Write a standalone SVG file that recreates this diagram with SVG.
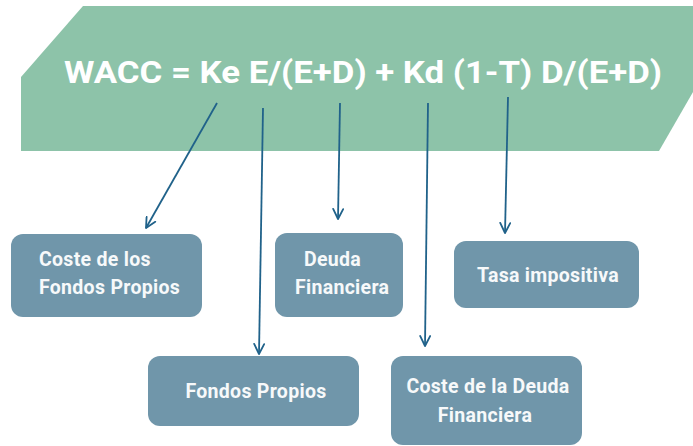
<svg xmlns="http://www.w3.org/2000/svg" width="693" height="446" viewBox="0 0 693 446">
<defs>
<style>
.box{fill:#7096aa;}
.lbl{font-family:Roboto,"Liberation Sans",sans-serif;font-weight:bold;font-size:19.5px;letter-spacing:0.3px;fill:#f7f9fa;}
.con{stroke:#20628a;stroke-width:1.8;fill:none;marker-end:url(#arr);}
</style>
<marker id="arr" viewBox="0 0 12 12" refX="11" refY="6" markerWidth="12" markerHeight="12" markerUnits="userSpaceOnUse" orient="auto">
<path d="M1,1 L11,6 L1,11" fill="none" stroke="#20628a" stroke-width="1.8" stroke-linecap="round" stroke-linejoin="round"/>
</marker>
</defs>
<rect width="693" height="446" fill="#ffffff"/>
<g id="formula">
<polygon points="83,6 693,6 693,92 659,151 21,151 21,77" fill="#8dc3a9"/>
<text x="64" y="83" font-family="Roboto,'Liberation Sans',sans-serif" font-weight="bold" font-size="32" fill="#ffffff" textLength="598" lengthAdjust="spacingAndGlyphs">WACC = Ke E/(E+D) + Kd (1-T) D/(E+D)</text>
</g>
<g id="connectors">
<line class="con" x1="217" y1="103" x2="146" y2="228"/>
<line class="con" x1="263" y1="108" x2="259" y2="354"/>
<line class="con" x1="340" y1="103" x2="338" y2="219"/>
<line class="con" x1="428" y1="103" x2="425" y2="346"/>
<line class="con" x1="508" y1="97" x2="505" y2="233"/>
</g>
<g id="coste-fondos-propios">
<rect class="box" x="11" y="234" width="191" height="83" rx="12"/>
<text class="lbl" x="39" y="266">Coste de los</text>
<text class="lbl" x="39" y="294">Fondos Propios</text>
</g>
<g id="deuda-financiera">
<rect class="box" x="275" y="233" width="128" height="84" rx="12"/>
<text class="lbl" x="304" y="266">Deuda</text>
<text class="lbl" x="295" y="294">Financiera</text>
</g>
<g id="tasa-impositiva">
<rect class="box" x="454" y="241" width="185" height="67" rx="12"/>
<text class="lbl" x="548" y="282" text-anchor="middle">Tasa impositiva</text>
</g>
<g id="fondos-propios">
<rect class="box" x="148" y="356" width="211" height="70" rx="12"/>
<text class="lbl" x="256" y="398" text-anchor="middle">Fondos Propios</text>
</g>
<g id="coste-deuda-financiera">
<rect class="box" x="391" y="356" width="191" height="89" rx="12"/>
<text class="lbl" x="488" y="393" text-anchor="middle">Coste de la Deuda</text>
<text class="lbl" x="485" y="422" text-anchor="middle">Financiera</text>
</g>
</svg>
